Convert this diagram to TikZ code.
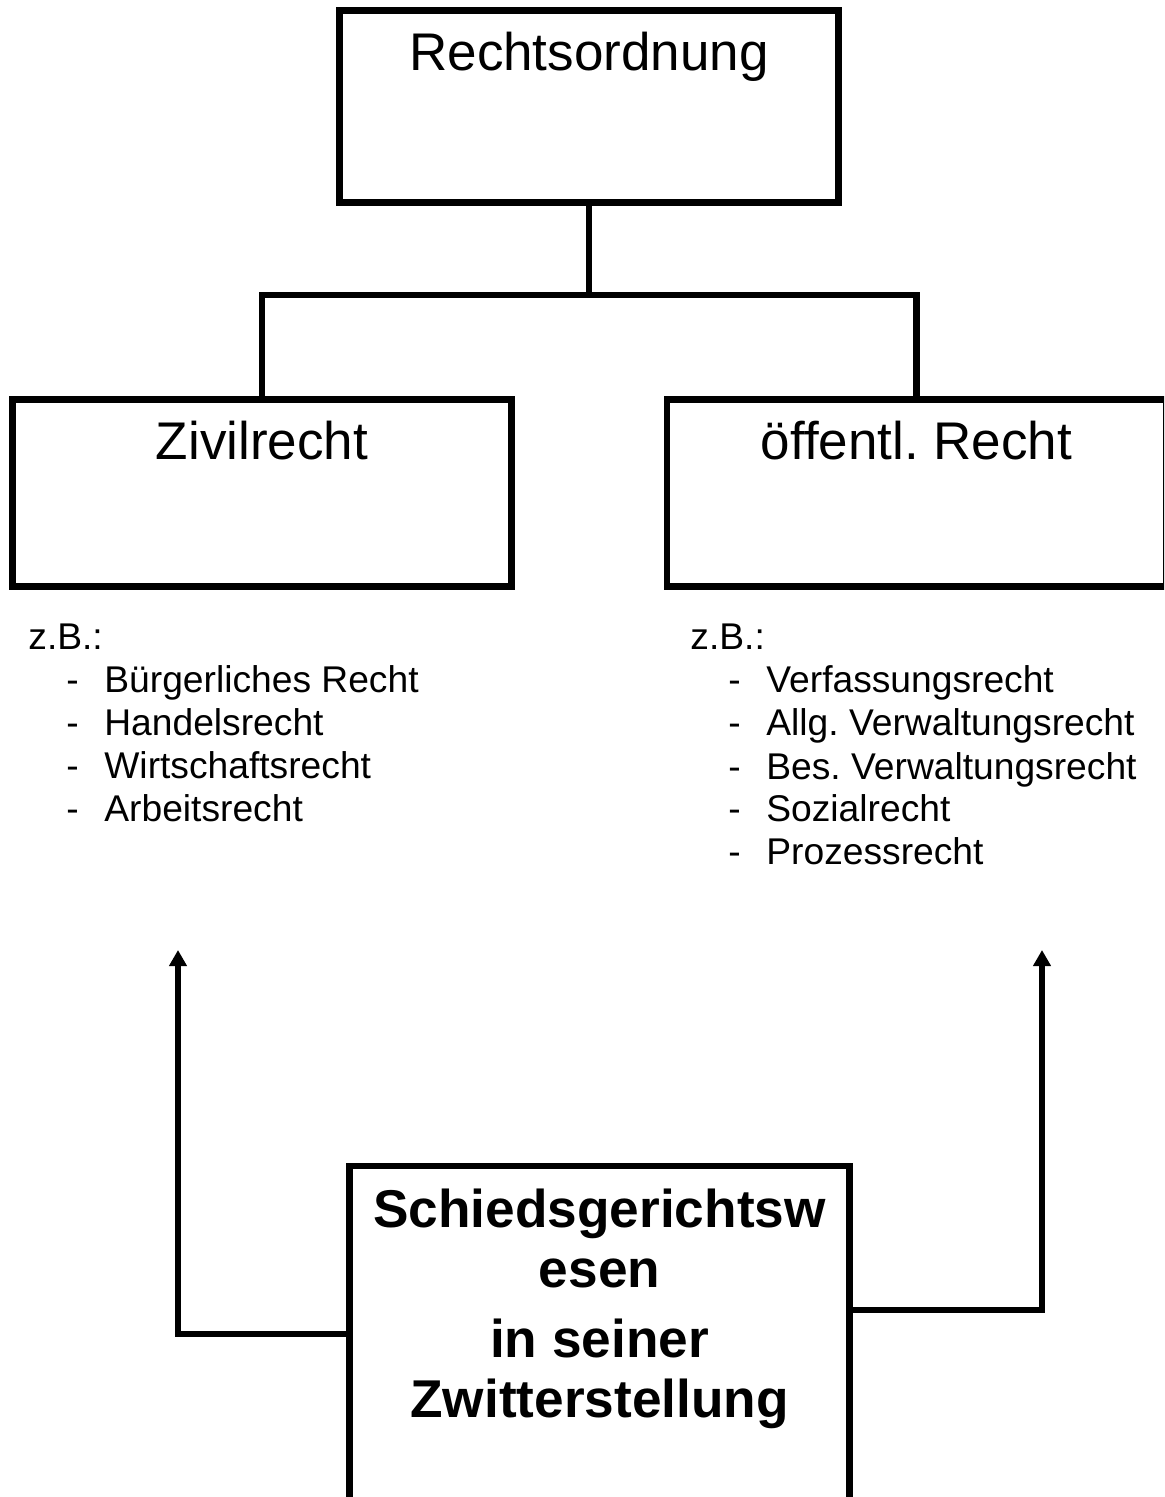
\documentclass[tikz,border=0pt]{standalone}
\usepackage{fontspec}
\setmainfont{Liberation Sans}
\frenchspacing
\usetikzlibrary{positioning,arrows.meta}

\newcommand{\listpunkt}[1]{\hspace*{19pt}\makebox[19pt][l]{-}#1}

\tikzset{
    kasten/.style={draw, line width=3.4pt, inner sep=0pt, minimum width=249.5pt},
    titel/.style={inner sep=0pt, font=\fontsize{26.5}{30}\selectfont},
    liste/.style={inner sep=0pt, anchor=north west, align=left, font=\fontsize{18.6}{21.5}\selectfont},
    verb/.style={line width=3.4pt},
    pfeil/.style={line width=3.4pt, -{Triangle[width=8.5pt,length=8pt]}}
}

\begin{document}
\begin{tikzpicture}[x=0.5pt, y=-0.5pt]
        \useasboundingbox (0,0) rectangle (1164,1497);
        \clip (0,0) rectangle (1164,1497);

        % Kaesten
        \node[kasten, minimum height=96pt] (recht) at (589,106.5) {};
        \node[kasten, minimum height=93.5pt] (zivil) at (262,493) {};
        \node[kasten, minimum height=93.5pt] (oeff) at (916.5,493) {};
        \node[kasten, minimum width=250pt, minimum height=217pt] (schied) at (599.5,1383) {};

        \node[titel, below=12.5pt of recht.north] (rechttext) {Rechtsordnung};
        \node[titel, below=12.5pt of zivil.north] (ziviltext) {Zivilrecht};
        \node[titel, below=12.5pt of oeff.north] (oefftext) {öffentl. Recht};
        \node[titel, below=13pt of schied.north, align=center,
              font=\fontsize{26.6}{30}\selectfont\bfseries] (schiedtext)
            {Schiedsgerichtsw\\esen\\[5pt]in seiner\\Zwitterstellung};

        % Beispiele
        \node[liste] (zivilliste) at (28,624) {z.B.:\\
            \listpunkt{Bürgerliches Recht}\\
            \listpunkt{Handelsrecht}\\
            \listpunkt{Wirtschaftsrecht}\\
            \listpunkt{Arbeitsrecht}};
        \node[liste] (oeffliste) at (690,624) {z.B.:\\
            \listpunkt{Verfassungsrecht}\\
            \listpunkt{Allg. Verwaltungsrecht}\\
            \listpunkt{Bes. Verwaltungsrecht}\\
            \listpunkt{Sozialrecht}\\
            \listpunkt{Prozessrecht}};

        % Baum
        \coordinate (ast) at (589,295);
        \draw[verb] (recht.south) -- (ast);
        \draw[verb] (zivil.north) |- (ast) -| (oeff.north);

        % Pfeile
        \coordinate (zivspitze) at (178,950);
        \coordinate (oeffspitze) at (1042,950);
        \draw[pfeil] ([yshift=24.5pt]schied.west) -| (zivspitze);
        \draw[pfeil] ([yshift=36.5pt]schied.east) -| (oeffspitze);
    \end{tikzpicture}
\end{document}
